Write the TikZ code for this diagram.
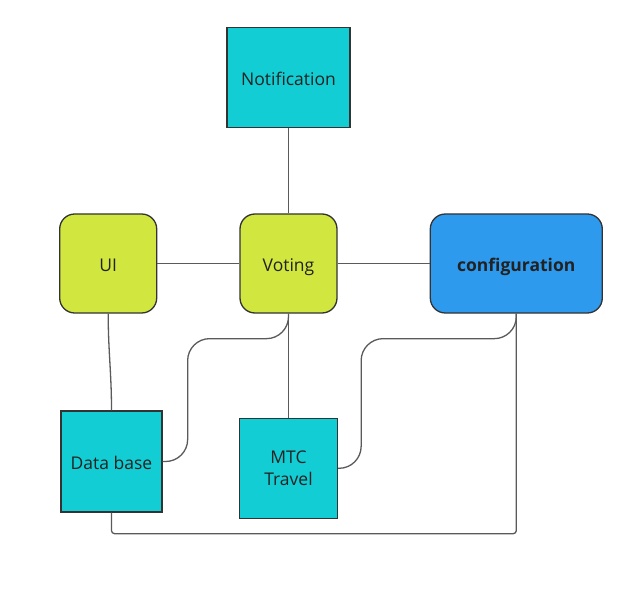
\documentclass[tikz,border=0pt]{standalone}
\usepackage{fontspec}
\setmainfont{Open Sans}
\usepackage{xcolor}
\usepackage{tikz}
\usetikzlibrary{positioning}

\definecolor{boxteal}{HTML}{13CDD4}
\definecolor{boxlime}{HTML}{D1E63E}
\definecolor{boxblue}{HTML}{2D9AEE}
\definecolor{boxline}{HTML}{333333}
\definecolor{wire}{HTML}{5A5A5A}
\definecolor{ink}{HTML}{222222}

\begin{document}
\begin{tikzpicture}[x=1pt, y=-1pt,
	square/.style={draw=boxline, line width=1.3pt, fill=boxteal, text=ink, align=center,
		font=\fontsize{17.5}{22}\selectfont, inner sep=0pt},
	oneline/.style={text height=16.5pt, text depth=0pt},
	module/.style={square, oneline, fill=boxlime, rounded corners=15pt, minimum width=97pt, minimum height=99pt},
	link/.style={draw=wire, line width=1.3pt}]
			\useasboundingbox (0,0) rectangle (638,591);
			\node [module] (voting) at (288.5,263.5) {Voting};
			\node [module, left=82pt of voting] (ui) {UI};
			\node [module, fill=boxblue, minimum width=172pt, right=92pt of voting,
				font=\fontsize{17.5}{22}\selectfont\bfseries] (config) {configuration};
			\node [square, oneline, minimum width=123pt, minimum height=100pt, above=85pt of voting] (notif) {Notification};
			\node [square, oneline, minimum width=101pt, minimum height=101pt] (db) at (111.5,461.5) {Data base};
			\node [square, minimum width=98pt, minimum height=100pt, below=104pt of voting] (mtc) {MTC\\Travel};
			%
			\draw [link] (notif) -- (voting);
			\draw [link] (ui) -- (voting) -- (config);
			\draw [link] (voting) -- (mtc);
			\draw [link] (ui.south) to [out=-90, in=90] (db.north);
			\draw [link, rounded corners=22pt] (voting.south) -- ++(0,25) -| ([xshift=25pt]db.east) -- (db.east);
			\draw [link, rounded corners=22pt] (config.south) -- ++(0,25) -| ([xshift=23pt]mtc.east) -- (mtc.east);
			\draw [link, rounded corners=3pt] (config.south) -- ++(0,220) -| (db.south);
		\end{tikzpicture}
\end{document}
